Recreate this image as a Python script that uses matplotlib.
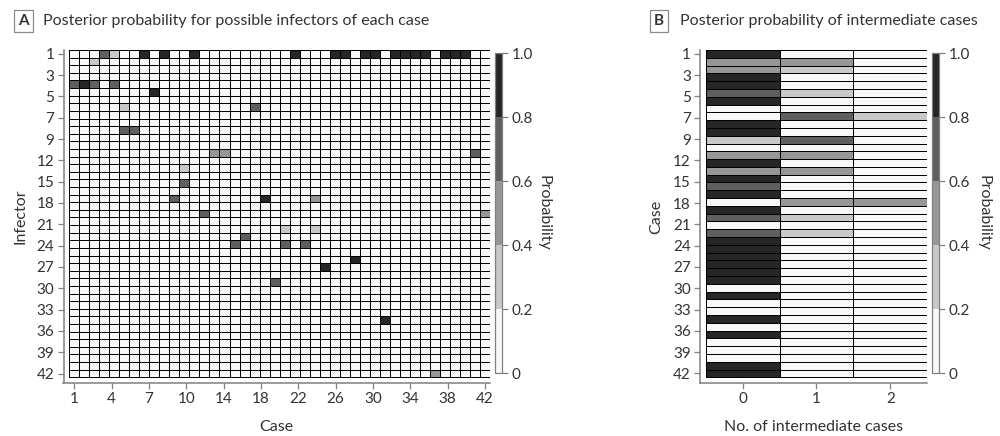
import numpy as np
import matplotlib.pyplot as plt
from matplotlib.colors import ListedColormap, BoundaryNorm

plt.rcParams['font.family'] = ['Lato', 'DejaVu Sans']

n_cases = 42
n_infectors = 43
xlabels_a = ['1', '4', '7', '10', '14', '18', '22', '26', '30', '34', '38', '42']
ylabels = ['1', '3', '5', '7', '9', '12', '15', '18', '21', '24', '27', '30', '33', '36', '39', '42']

# Panel A: non-zero posterior probabilities (infector row, case column)
infector = [1, 1, 1, 1, 1, 1, 1, 1, 1, 1, 1, 1, 1, 1, 1, 1, 1,
            2, 5, 5, 5, 5, 6, 8, 8, 11, 11, 14, 14, 14, 16, 18,
            20, 20, 20, 22, 22, 24, 24, 25, 26, 26, 26, 28, 29, 31, 36, 43]
case = [4, 5, 8, 10, 13, 23, 27, 28, 30, 31, 33, 34, 35, 36, 38, 39, 40,
        3, 1, 2, 3, 5, 9, 6, 19, 6, 7, 15, 16, 41, 12, 12,
        11, 20, 25, 14, 42, 22, 25, 18, 17, 22, 24, 29, 26, 21, 32, 37]
prob = [0.7, 0.3, 0.95, 0.95, 0.95, 0.95, 0.95, 0.95, 0.95, 0.95, 0.95, 0.95, 0.95, 0.95, 0.95, 0.95, 0.95,
        0.3, 0.7, 0.95, 0.7, 0.7, 0.95, 0.3, 0.7, 0.7, 0.7, 0.5, 0.5, 0.7, 0.3, 0.7,
        0.7, 0.95, 0.5, 0.7, 0.5, 0.3, 0.3, 0.7, 0.7, 0.7, 0.7, 0.95, 0.95, 0.7, 0.95, 0.5]

# Panel B: probability of 0, 1, 2 intermediate cases for each case
n_intermediate = [0, 1, 2]
p_zero = [0.95, 0.5, 0.5, 0.95, 0.95, 0.7, 0.95, 0, 0, 0.95, 0.95, 0.3, 0, 0.5, 0.95, 0.5, 0.95, 0.7, 0.95, 0, 0.95,
          0.7, 0, 0.7, 0.95, 0.95, 0.95, 0.95, 0.95, 0.95, 0, 0.95, 0, 0, 0.95, 0, 0.95, 0, 0, 0, 0.95, 0.95]
p_one = [0, 0.5, 0.3, 0, 0, 0.3, 0, 0, 0.7, 0, 0, 0.7, 0, 0.5, 0, 0.5, 0, 0, 0, 0.5, 0,
         0.3, 0, 0.3, 0, 0, 0, 0, 0, 0, 0, 0, 0, 0, 0, 0, 0, 0, 0, 0, 0, 0]
p_two = [0, 0, 0, 0, 0, 0, 0, 0, 0.3, 0, 0, 0, 0, 0, 0, 0, 0, 0, 0, 0.5, 0,
         0, 0, 0, 0, 0, 0, 0, 0, 0, 0, 0, 0, 0, 0, 0, 0, 0, 0, 0, 0, 0]

mat_a = np.zeros((n_infectors, n_cases))
mat_a[np.array(infector) - 1, np.array(case) - 1] = prob
mat_b = np.column_stack([p_zero, p_one, p_two])

cmap = ListedColormap(['#f7f9f9', '#c8c8c8', '#969696', '#5f5f5f', '#262626'])
norm = BoundaryNorm([0, 0.2, 0.4, 0.6, 0.8, 1.0], cmap.N)

spine_col = '#808080'
text_col = '#333333'
W, H = 1000, 436


def px(x0, y0, x1, y1):
    return [x0 / W, 1 - y1 / H, (x1 - x0) / W, (y1 - y0) / H]


fig = plt.figure(figsize=(10, 4.36), dpi=100)


def style(ax):
    for s in ['top', 'right']:
        ax.spines[s].set_visible(False)
    for s in ['left', 'bottom']:
        ax.spines[s].set_color(spine_col)
        ax.spines[s].set_linewidth(1.1)
    ax.tick_params(direction='out', length=4, width=0.9, color=spine_col,
                   labelcolor=text_col, labelsize=11, pad=2.5)


def add_cbar(mesh, rect, pad):
    cax = fig.add_axes(rect)
    cb = fig.colorbar(mesh, cax=cax, ticks=[0, 0.2, 0.4, 0.6, 0.8, 1.0])
    cb.ax.set_yticklabels(['0', '0.2', '0.4', '0.6', '0.8', '1.0'])
    cb.outline.set_edgecolor(spine_col)
    cb.outline.set_linewidth(0.9)
    cb.ax.tick_params(direction='out', length=4, width=0.9, color=spine_col,
                      labelcolor=text_col, labelsize=11, pad=3)
    cb.set_label('Probability', rotation=270, color=text_col, fontsize=11.5, labelpad=pad)
    return cb


# ---- panel A (rows = infectors, columns = cases)
ax1 = fig.add_axes(px(63.5, 50, 490, 383.3))
x_edges = np.arange(0.5, n_cases + 1)
y_edges = np.arange(0.5, n_infectors + 1)
m1 = ax1.pcolormesh(x_edges, y_edges, mat_a, cmap=cmap, norm=norm,
                    edgecolors='black', linewidth=0.6)
ax1.set_xlim(0.5 - 5.7 / 10.02, n_cases + 0.5)
ax1.set_ylim(n_infectors + 0.5 + 6 / 7.62, 0.5)
ax1.set_xticks(np.linspace(1, n_cases, len(xlabels_a)))
ax1.set_xticklabels(xlabels_a)
ax1.set_yticks(np.linspace(1, n_infectors, len(ylabels)))
ax1.set_yticklabels(ylabels)
style(ax1)
ax1.set_xlabel('Case', color=text_col, fontsize=11.5, labelpad=10)
ax1.set_ylabel('Infector', color=text_col, fontsize=11.5, labelpad=7)
add_cbar(m1, px(495, 53.3, 501.7, 373.3), 13)

# ---- panel B
ax2 = fig.add_axes(px(700, 50, 927.3, 383.3))
case_edges = np.arange(0.5, n_cases + 1)
m2 = ax2.pcolormesh(np.arange(-0.5, 3), case_edges, mat_b, cmap=cmap, norm=norm,
                    edgecolors='black', linewidth=0.6)
ax2.set_xlim(-0.5 - 5.7 / 73.9, 2.5)
ax2.set_ylim(n_cases + 0.5 + 6 / 7.8, 0.5)
ax2.set_xticks(n_intermediate)
ax2.set_yticks(np.linspace(1, n_cases, len(ylabels)))
ax2.set_yticklabels(ylabels)
style(ax2)
ax2.set_xlabel('No. of intermediate cases', color=text_col, fontsize=11.5, labelpad=10)
ax2.set_ylabel('Case', color=text_col, fontsize=11.5, labelpad=7)
add_cbar(m2, px(932.3, 53.3, 939, 373.3), 15)

# ---- panel titles
box = dict(boxstyle='square,pad=0.25', fc='white', ec='#8a8a8a', lw=0.9)
fig.text(23.5 / W, 1 - 21 / H, 'A', ha='center', va='center', fontsize=11,
         color=text_col, fontweight='bold', bbox=box)
fig.text(43 / W, 1 - 21 / H, 'Posterior probability for possible infectors of each case',
         ha='left', va='center', fontsize=11.5, color=text_col)
fig.text(659 / W, 1 - 21 / H, 'B', ha='center', va='center', fontsize=11,
         color=text_col, fontweight='bold', bbox=box)
fig.text(680 / W, 1 - 21 / H, 'Posterior probability of intermediate cases',
         ha='left', va='center', fontsize=11.5, color=text_col)

fig.savefig('out.png', dpi=100, facecolor='white')
